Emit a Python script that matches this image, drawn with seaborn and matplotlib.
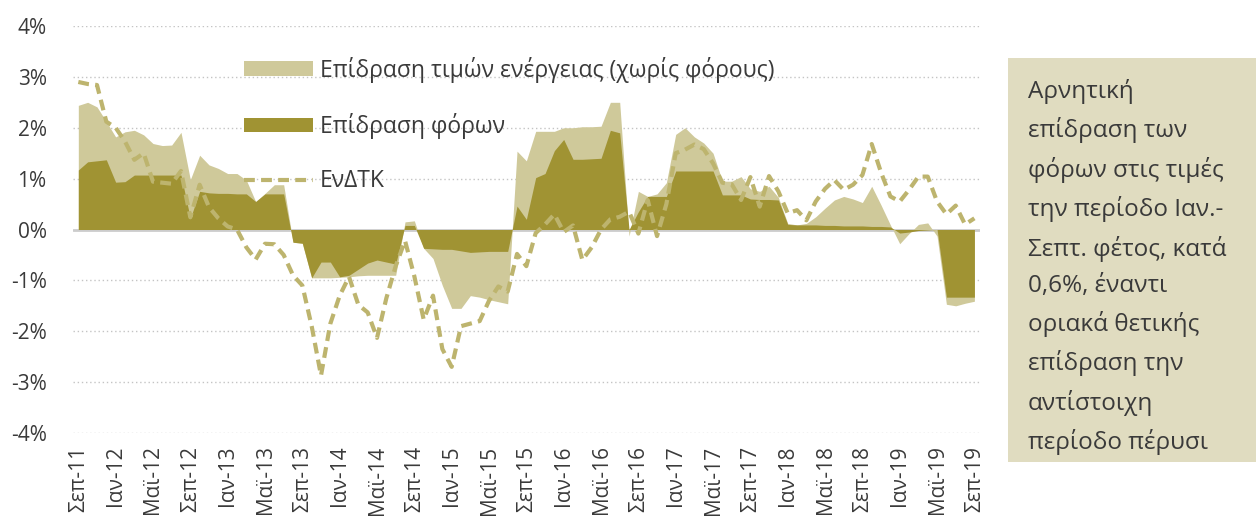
import matplotlib
matplotlib.use("Agg")
import matplotlib.pyplot as plt
from matplotlib.patches import Patch, Rectangle
from matplotlib.lines import Line2D
import numpy as np
import pandas as pd
import seaborn as sns

# monthly data, Sep 2011 - Sep 2019 (% yoy)
energy_total = [
    2.44, 2.50, 2.41, 2.12, 1.82, 1.92, 1.95, 1.86, 1.69, 1.65, 1.66, 1.91,
    0.98, 1.46, 1.27, 1.20, 1.10, 1.10, 0.97, 0.55, 0.71, 0.88, 0.88, -0.25,
    -0.27, -0.95, -0.95, -0.95, -0.94, -0.93, -0.91, -0.90, -0.90, -0.90, -0.90, 0.15,
    0.17, -0.37, -0.57, -1.10, -1.55, -1.55, -1.30, -1.33, -1.38, -1.42, -1.46, 1.54,
    1.35, 1.93, 1.93, 1.93, 2.00, 2.00, 2.02, 2.02, 2.03, 2.50, 2.50, -0.13,
    0.75, 0.65, 0.70, 0.92, 1.87, 2.00, 1.82, 1.70, 1.50, 0.95, 0.95, 1.04,
    0.80, 0.75, 0.85, 0.63, 0.12, 0.09, 0.12, 0.25, 0.42, 0.58, 0.65, 0.60,
    0.53, 0.85, 0.48, 0.09, -0.28, -0.08, 0.10, 0.13, -0.13, -1.47, -1.50, -1.45,
    -1.41,
]
tax_effect = [
    1.17, 1.33, 1.35, 1.37, 0.93, 0.94, 1.07, 1.07, 1.07, 1.07, 1.07, 1.07,
    0.22, 0.75, 0.72, 0.71, 0.71, 0.70, 0.70, 0.55, 0.70, 0.70, 0.70, -0.25,
    -0.27, -0.95, -0.64, -0.64, -0.93, -0.90, -0.78, -0.66, -0.60, -0.64, -0.68, 0.08,
    0.08, -0.37, -0.38, -0.39, -0.39, -0.42, -0.45, -0.44, -0.43, -0.43, -0.43, 0.46,
    0.20, 1.02, 1.10, 1.55, 1.77, 1.38, 1.38, 1.39, 1.40, 1.95, 1.90, 0.00,
    0.35, 0.65, 0.65, 0.65, 1.15, 1.15, 1.15, 1.15, 1.15, 0.68, 0.68, 0.68,
    0.60, 0.59, 0.59, 0.58, 0.10, 0.09, 0.09, 0.09, 0.08, 0.08, 0.07, 0.07,
    0.07, 0.06, 0.06, 0.05, -0.07, -0.05, -0.02, -0.01, 0.00, -1.33, -1.33, -1.33,
    -1.33,
]
hicp = [
    2.90, 2.86, 2.84, 2.12, 2.00, 1.73, 1.37, 1.50, 0.94, 0.92, 0.90, 1.15,
    0.24, 0.88, 0.44, 0.22, 0.06, 0.00, -0.35, -0.59, -0.28, -0.29, -0.50, -0.90,
    -1.10, -1.90, -2.87, -1.85, -1.30, -0.93, -1.48, -1.63, -2.13, -1.35, -0.72, -0.22,
    -0.92, -1.77, -1.30, -2.35, -2.70, -1.90, -1.85, -1.80, -1.40, -1.12, -1.22, -0.48,
    -0.72, -0.07, 0.10, 0.30, -0.05, 0.08, -0.60, -0.35, 0.00, 0.20, 0.25, 0.35,
    -0.08, 0.58, -0.13, 0.50, 1.50, 1.57, 1.67, 1.58, 1.30, 0.92, 0.89, 0.58,
    1.03, 0.45, 1.05, 0.75, 0.32, 0.38, 0.18, 0.55, 0.80, 0.97, 0.78, 0.88,
    1.07, 1.68, 1.12, 0.65, 0.55, 0.78, 1.04, 1.04, 0.55, 0.30, 0.47, 0.10,
    0.22,
]
tick_labels = [
    "Σεπ-11", "Ιαν-12", "Μαϊ-12", "Σεπ-12", "Ιαν-13", "Μαϊ-13", "Σεπ-13",
    "Ιαν-14", "Μαϊ-14", "Σεπ-14", "Ιαν-15", "Μαϊ-15", "Σεπ-15", "Ιαν-16",
    "Μαϊ-16", "Σεπ-16", "Ιαν-17", "Μαϊ-17", "Σεπ-17", "Ιαν-18", "Μαϊ-18",
    "Σεπ-18", "Ιαν-19", "Μαϊ-19", "Σεπ-19",
]
series_names = ["Επίδραση τιμών ενέργειας (χωρίς φόρους)", "Επίδραση φόρων", "ΕνΔΤΚ"]
note = ("Αρνητική\nεπίδραση των\nφόρων στις τιμές\nτην περίοδο Ιαν.-\n"
        "Σεπτ. φέτος, κατά\n0,6%, έναντι\nοριακά θετικής\nεπίδραση την\n"
        "αντίστοιχη\nπερίοδο πέρυσι")

LIGHT = "#cfc99a"
DARK = "#a09333"
LINE = "#bdb46e"
BOX = "#e0dcc0"
TXT = "#3a3a3a"

sns.set_style("white")
plt.rcParams["font.family"] = ["Open Sans", "DejaVu Sans"]

df = pd.DataFrame({"m": np.arange(len(hicp)), "total": energy_total,
                   "tax": tax_effect, "hicp": hicp})

fig = plt.figure(figsize=(12.56, 5.24), dpi=100)
ax = fig.add_axes([73 / 1256, 1 - 433 / 524, 907 / 1256, 407 / 524])

ax.fill_between(df["m"], 0, df["total"], color=LIGHT, lw=0, zorder=2)
ax.fill_between(df["m"], 0, df["tax"], color=DARK, lw=0, zorder=3)
sns.lineplot(data=df, x="m", y="hicp", ax=ax, color=LINE, lw=3,
             dashes=False, zorder=4, legend=False)
ax.lines[-1].set_dashes((2.6, 1.5))

ax.set_ylim(-4, 4)
ax.set_xlim(-0.57, 96.6)
ax.set_yticks(range(-4, 5))
ax.set_yticklabels([f"{v}%" for v in range(-4, 5)])
ax.set_xticks(np.arange(0, 97, 4))
ax.set_xticklabels(tick_labels, rotation=90)
ax.set_xlabel("")
ax.set_ylabel("")
for v in range(-4, 5):
    if v != 0:
        ax.axhline(v, color="#c4c4c4", lw=1, ls=(0, (1, 2)), zorder=1)
ax.axhline(0, color="#cccccc", lw=2, zorder=1.5)
sns.despine(ax=ax, left=True, bottom=True)
ax.tick_params(axis="y", length=0, pad=19, labelsize=15, labelcolor=TXT)
ax.tick_params(axis="x", length=0, pad=9, labelsize=15, labelcolor=TXT)

handles = [Patch(color=LIGHT, lw=0), Patch(color=DARK, lw=0),
           Line2D([], [], color=LINE, lw=3, dashes=(2.6, 1.5))]
ax.legend(handles, series_names, loc="upper left", bbox_to_anchor=(0.1886, 0.925),
          frameon=False, fontsize=16.5, handlelength=3.0, handleheight=0.6,
          labelspacing=1.33, handletextpad=0.3, borderpad=0, borderaxespad=0,
          labelcolor=TXT)

fig.add_artist(Rectangle((1008 / 1256, 1 - 462 / 524), 248 / 1256, 404 / 524,
                         transform=fig.transFigure, color=BOX, lw=0))
fig.text(1028 / 1256, 1 - 79 / 524, note, ha="left", va="top", fontsize=17.5,
         color=TXT, linespacing=1.67)

fig.savefig("out.png", dpi=100)
